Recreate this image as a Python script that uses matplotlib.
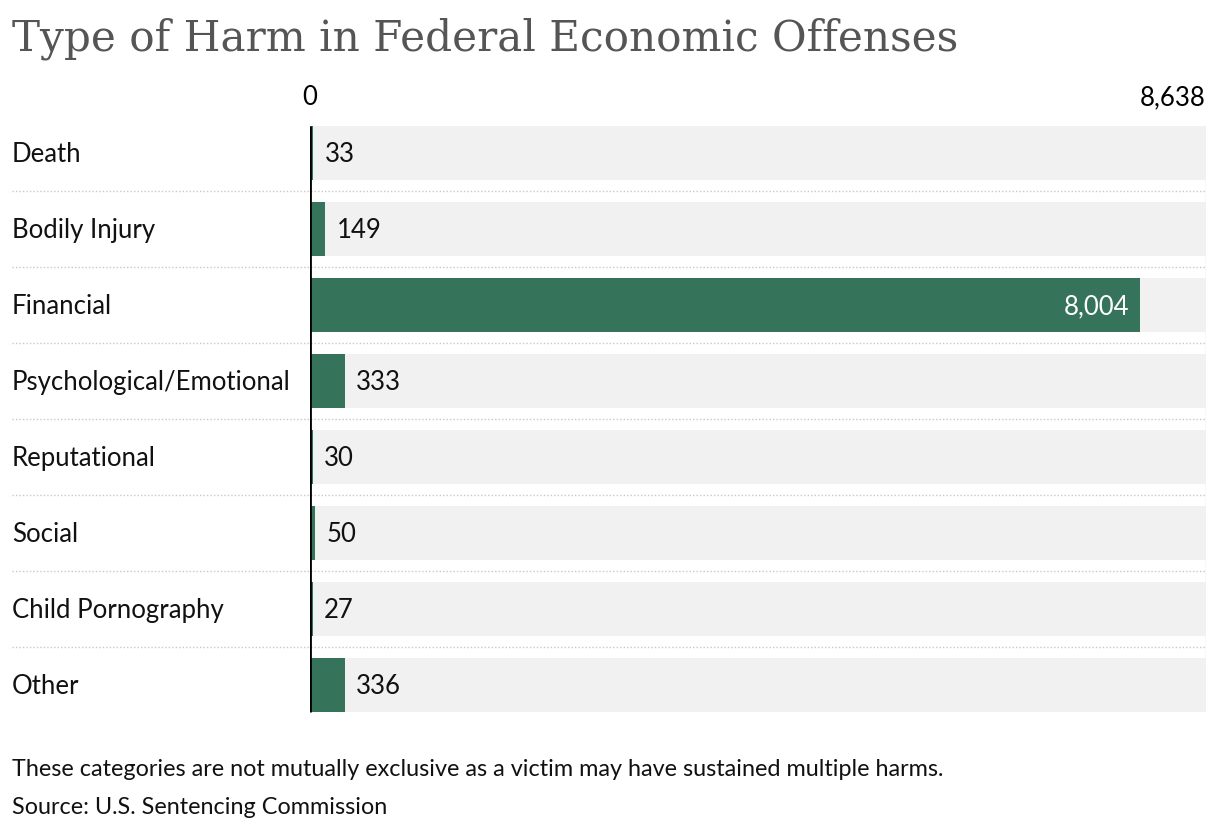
import matplotlib
matplotlib.use("Agg")
from matplotlib import pyplot as plt
import matplotlib.transforms as mtransforms

categories = ["Death", "Bodily Injury", "Financial", "Psychological/Emotional",
              "Reputational", "Social", "Child Pornography", "Other"]
values = [33, 149, 8004, 333, 30, 50, 27, 336]
max_value = 8638
title = "Type of Harm in Federal Economic Offenses"
note = "These categories are not mutually exclusive as a victim may have sustained multiple harms."
source = "Source: U.S. Sentencing Commission"

green = "#35745a"
W, H = 1220, 832
fs = 18.5

plt.rcParams['font.family'] = ['Lato', 'DejaVu Sans']

fig = plt.figure(figsize=(W / 100, H / 100), dpi=100)
# axes: zero at x=310, max at x=1206; rows centred at 153 + 76*i
ax = fig.add_axes([310 / W, 1 - 723 / H, 896 / W, 608 / H])

n = len(categories)
pos = list(range(n))
ax.barh(pos, [max_value] * n, height=0.7, color="#f1f1f1", zorder=1)
ax.barh(pos, values, height=0.7, color=green, zorder=2)

ax.set_xlim(0, max_value)
ax.set_ylim(n - 0.5, -0.5)
for s in ax.spines.values():
    s.set_visible(False)
ax.set_yticks([])
ax.xaxis.tick_top()
ax.set_xticks([0, max_value], ["0", f"{max_value:,}"])
ax.tick_params(axis='x', length=0, pad=3.5, labelsize=fs)
lbls = ax.get_xticklabels()
lbls[1].set_ha('right')

trans = mtransforms.blended_transform_factory(ax.transAxes, ax.transData)
left = (12 - 310) / 896

for i, (cat, v) in enumerate(zip(categories, values)):
    ax.text(left, i + 0.02, cat, transform=trans, ha='left', va='center', fontsize=fs, color='#111111')
    if v > max_value * 0.5:
        ax.annotate(f"{v:,}", (v, i + 0.02), xytext=(-8, 0), textcoords='offset points',
                    ha='right', va='center', fontsize=fs, color='white', zorder=3)
    else:
        ax.annotate(f"{v:,}", (v, i + 0.02), xytext=(8, 0), textcoords='offset points',
                    ha='left', va='center', fontsize=fs, color='#111111', zorder=3)

for i in range(n - 1):
    ax.plot([left, 1.0], [i + 0.5, i + 0.5], transform=trans, color='#c8c8c8',
            lw=1, ls=(0, (1, 1.5)), clip_on=False, zorder=0)

ax.plot([0, 0], [-0.35, n - 1 + 0.35], color='black', lw=2, zorder=4, solid_capstyle='butt')
ax.plot([max_value, max_value], [-0.35, n - 1 + 0.35], color='#dddddd', lw=1, zorder=0)

fig.text(12 / W, 1 - 39 / H, title, family='DejaVu Serif', fontsize=30.3, color='#555555',
         ha='left', va='center')
fig.text(12 / W, 1 - 769 / H, note, fontsize=16.8, color='#111111', ha='left', va='center')
fig.text(12 / W, 1 - 807 / H, source, fontsize=16.8, color='#111111', ha='left', va='center')

fig.savefig("out.png", dpi=100)
